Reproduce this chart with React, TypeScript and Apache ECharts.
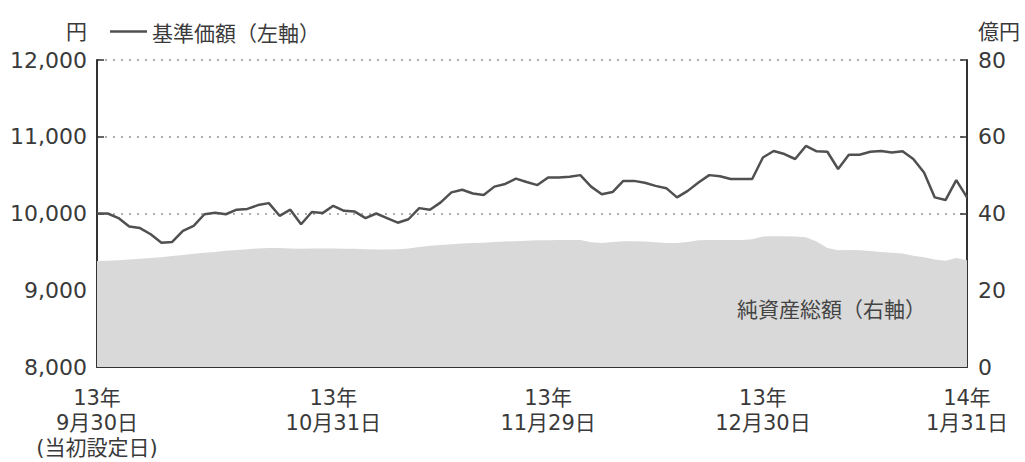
import React, { useEffect, useRef } from "react";
import * as echarts from "echarts";

const dates: string[] = [
  "2013/09/30",
  "2013/10/01", "2013/10/02", "2013/10/03", "2013/10/04",
  "2013/10/07", "2013/10/08", "2013/10/09", "2013/10/10", "2013/10/11",
  "2013/10/15", "2013/10/16", "2013/10/17", "2013/10/18",
  "2013/10/21", "2013/10/22", "2013/10/23", "2013/10/24", "2013/10/25",
  "2013/10/28", "2013/10/29", "2013/10/30", "2013/10/31",
  "2013/11/01",
  "2013/11/05", "2013/11/06", "2013/11/07", "2013/11/08",
  "2013/11/11", "2013/11/12", "2013/11/13", "2013/11/14", "2013/11/15",
  "2013/11/18", "2013/11/19", "2013/11/20", "2013/11/21", "2013/11/22",
  "2013/11/25", "2013/11/26", "2013/11/27", "2013/11/28", "2013/11/29",
  "2013/12/02", "2013/12/03", "2013/12/04", "2013/12/05", "2013/12/06",
  "2013/12/09", "2013/12/10", "2013/12/11", "2013/12/12", "2013/12/13",
  "2013/12/16", "2013/12/17", "2013/12/18", "2013/12/19", "2013/12/20",
  "2013/12/24", "2013/12/25", "2013/12/26", "2013/12/27",
  "2013/12/30",
  "2014/01/06", "2014/01/07", "2014/01/08", "2014/01/09", "2014/01/10",
  "2014/01/14", "2014/01/15", "2014/01/16", "2014/01/17",
  "2014/01/20", "2014/01/21", "2014/01/22", "2014/01/23", "2014/01/24",
  "2014/01/27", "2014/01/28", "2014/01/29", "2014/01/30", "2014/01/31",
];

// 基準価額 (円, left axis)
const basePrice: number[] = [
  10000, 10000, 9940, 9830, 9810, 9730, 9620, 9630, 9775, 9840,
  9990, 10010, 9990, 10050, 10060, 10110, 10135, 9970, 10050, 9860,
  10020, 10005, 10100, 10035, 10025, 9940, 10000, 9940, 9880, 9925,
  10070, 10050, 10145, 10275, 10310, 10260, 10240, 10350, 10385, 10455,
  10410, 10370, 10470, 10470, 10480, 10500, 10350, 10250, 10280, 10425,
  10425, 10400, 10360, 10330, 10210, 10295, 10405, 10500, 10485, 10450,
  10450, 10450, 10730, 10815, 10775, 10710, 10880, 10810, 10805, 10580,
  10765, 10765, 10805, 10815, 10795, 10810, 10710, 10535, 10210, 10175,
  10435, 10210,
];

// 純資産総額 (億円, right axis)
const netAssets: number[] = [
  27.6, 27.7, 27.8, 28.0, 28.2, 28.4, 28.6, 28.9, 29.2, 29.5,
  29.8, 30.0, 30.3, 30.5, 30.7, 30.9, 31.0, 31.0, 30.9, 30.8,
  30.9, 30.9, 30.9, 30.8, 30.8, 30.7, 30.6, 30.6, 30.7, 30.9,
  31.3, 31.6, 31.8, 32.0, 32.2, 32.3, 32.4, 32.6, 32.7, 32.8,
  32.9, 33.0, 33.0, 33.1, 33.1, 33.1, 32.5, 32.3, 32.6, 32.8,
  32.8, 32.7, 32.5, 32.3, 32.3, 32.6, 33.0, 33.1, 33.1, 33.1,
  33.1, 33.3, 34.0, 34.1, 34.1, 34.0, 33.8, 32.7, 31.0, 30.4,
  30.5, 30.4, 30.2, 30.0, 29.8, 29.6, 29.0, 28.6, 28.0, 27.7,
  28.4, 27.8,
];

const tickDates: string[] = ["2013/09/30", "2013/10/31", "2013/11/29", "2013/12/30", "2014/01/31"];
const tickLabels: string[] = [
  "13年\n9月30日\n(当初設定日)",
  "13年\n10月31日",
  "13年\n11月29日",
  "13年\n12月30日",
  "14年\n1月31日",
];

const leftTicks = { min: 8000, max: 12000, interval: 1000 };
const rightTicks = { min: 0, max: 80, interval: 20 };

const seriesNames = { price: "基準価額（左軸）", assets: "純資産総額（右軸）" };

const NUM_FONT = "'DejaVu Sans', 'Noto Sans CJK JP', sans-serif";
const JP_FONT = "'Noto Sans CJK JP', sans-serif";
const TEXT = "#3a3a3a";

export default function App() {
  const ref = useRef<HTMLDivElement>(null);

  useEffect(() => {
    document.body.style.margin = "0";
    if (!ref.current) return;
    const chart = echarts.init(ref.current, undefined, { renderer: "svg" });
    const isTick = (_i: number, v: string) => tickDates.indexOf(v) >= 0;
    const isInnerTick = (_i: number, v: string) => {
      const k = tickDates.indexOf(v);
      return k > 0 && k < tickDates.length - 1;
    };
    chart.setOption({
      animation: false,
      backgroundColor: "#ffffff",
      grid: { left: 97, right: 58, top: 60, bottom: 95, containLabel: false },
      legend: {
        data: [seriesNames.price],
        left: 110,
        top: 21,
        padding: 0,
        icon: "rect",
        itemWidth: 37,
        itemHeight: 2.5,
        itemGap: 5,
        textStyle: { fontFamily: JP_FONT, fontSize: 21, color: TEXT },
      },
      xAxis: {
        type: "category",
        data: dates,
        boundaryGap: false,
        axisLine: { show: true, lineStyle: { color: "#333", width: 2 } },
        axisTick: { show: true, inside: true, length: 8, interval: isInnerTick, lineStyle: { color: "#333", width: 1.5 } },
        axisLabel: {
          interval: isTick,
          margin: 18,
          fontFamily: NUM_FONT,
          fontSize: 21,
          lineHeight: 25,
          color: TEXT,
          formatter: (v: string) => {
            const k = tickDates.indexOf(v);
            return k >= 0 ? tickLabels[k] : "";
          },
        },
        splitLine: { show: false },
      },
      yAxis: [
        {
          type: "value",
          min: leftTicks.min,
          max: leftTicks.max,
          interval: leftTicks.interval,
          position: "left",
          axisLine: { show: true, lineStyle: { color: "#333", width: 2 } },
          axisTick: { show: true, inside: true, length: 7, lineStyle: { color: "#333", width: 1.5 } },
          axisLabel: {
            margin: 10,
            fontFamily: NUM_FONT,
            fontSize: 22,
            color: TEXT,
            formatter: (v: number) => v.toLocaleString("en-US"),
          },
          splitLine: { show: true, lineStyle: { color: "#b0b0b0", width: 2, type: [2, 6] } },
        },
        {
          type: "value",
          min: rightTicks.min,
          max: rightTicks.max,
          interval: rightTicks.interval,
          position: "right",
          axisLine: { show: true, lineStyle: { color: "#333", width: 2 } },
          axisTick: { show: true, inside: true, length: 7, lineStyle: { color: "#333", width: 1.5 } },
          axisLabel: { margin: 11, fontFamily: NUM_FONT, fontSize: 22, color: TEXT },
          splitLine: { show: false },
        },
      ],
      series: [
        {
          name: seriesNames.assets,
          type: "line",
          yAxisIndex: 1,
          data: netAssets,
          symbol: "none",
          lineStyle: { width: 0 },
          itemStyle: { color: "#d9d9d9" },
          areaStyle: { color: "#d9d9d9", opacity: 1 },
          z: 1,
        },
        {
          name: seriesNames.price,
          type: "line",
          yAxisIndex: 0,
          data: basePrice,
          symbol: "none",
          color: "#505050",
          lineStyle: { color: "#505050", width: 2.5 },
          z: 3,
        },
      ],
      graphic: [
        {
          type: "text",
          x: 87,
          y: 30,
          style: { text: "円", fontFamily: JP_FONT, fontSize: 21, fill: TEXT, align: "right", verticalAlign: "middle" },
        },
        {
          type: "text",
          x: 978,
          y: 30,
          style: { text: "億円", fontFamily: JP_FONT, fontSize: 21, fill: TEXT, align: "left", verticalAlign: "middle" },
        },
        {
          type: "text",
          x: 737,
          y: 308,
          z: 10,
          style: { text: seriesNames.assets, fontFamily: JP_FONT, fontSize: 21, fill: "#444", align: "left", verticalAlign: "middle" },
        },
      ],
    });
    return () => chart.dispose();
  }, []);

  return <div ref={ref} style={{ width: 1025, height: 462 }} />;
}
